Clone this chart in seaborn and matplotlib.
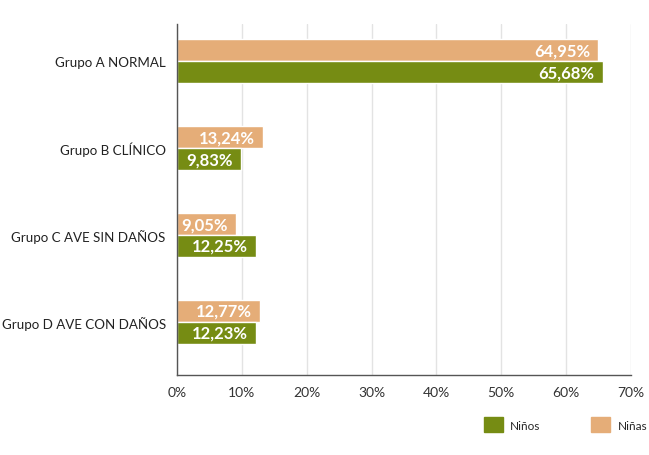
import matplotlib
matplotlib.use("Agg")
import matplotlib.pyplot as plt
from matplotlib.patches import Patch
import seaborn as sns
import pandas as pd

grupos = ["Grupo A NORMAL", "Grupo B CLÍNICO", "Grupo C AVE SIN DAÑOS", "Grupo D AVE CON DAÑOS"]
ninas = [64.95, 13.24, 9.05, 12.77]
ninos = [65.68, 9.83, 12.25, 12.23]
ticks = [0, 10, 20, 30, 40, 50, 60, 70]

verde = "#768C13"
naranja = "#E5AD78"

df = pd.DataFrame({
    "grupo": grupos * 2,
    "sexo": ["Niñas"] * len(grupos) + ["Niños"] * len(grupos),
    "valor": ninas + ninos,
})

sns.set_style("white")
plt.rcParams["font.family"] = ["Lato", "DejaVu Sans"]

fig = plt.figure(figsize=(6.49, 4.56), dpi=100)
ax = fig.add_axes([0.2727, 0.176, 0.6996, 0.769])

sns.barplot(data=df, y="grupo", x="valor", hue="sexo", hue_order=["Niñas", "Niños"],
            order=grupos, palette={"Niñas": naranja, "Niños": verde},
            width=0.506, orient="h", ax=ax, legend=False, saturation=1)

for cont in ax.containers:
    labels = [f"{v:.2f}%".replace(".", ",") for v in cont.datavalues]
    ax.bar_label(cont, labels=labels, padding=-6, color="white", fontweight="bold",
                 fontsize=12, label_type="edge")
for t in ax.texts:
    t.set_ha("right")

ax.set_xlim(0, 70)
ax.set_ylim(3.61, -0.43)
ax.set_xticks(ticks)
ax.set_xticklabels([f"{t}%" for t in ticks], fontsize=10, color="#333333")
ax.tick_params(axis="y", labelsize=9.6, labelcolor="#222222", length=0, pad=8)
ax.tick_params(axis="x", length=0, pad=8)
ax.set_xlabel("")
ax.set_ylabel("")
ax.grid(axis="x", color="#e3e3e3", linewidth=1)
ax.set_axisbelow(True)
for s in ["top", "right"]:
    ax.spines[s].set_visible(False)
for s in ["left", "bottom"]:
    ax.spines[s].set_color("#555555")
    ax.spines[s].set_linewidth(1)

handles = [Patch(color=verde, label="Niños"), Patch(color=naranja, label="Niñas")]
fig.legend(handles=handles, loc="center left", bbox_to_anchor=(0.729, 0.066), ncol=2,
           frameon=False, fontsize=8.5, handlelength=1.6, handleheight=1.6,
           columnspacing=4.3, handletextpad=0.65)

fig.savefig("out.png", dpi=100)
